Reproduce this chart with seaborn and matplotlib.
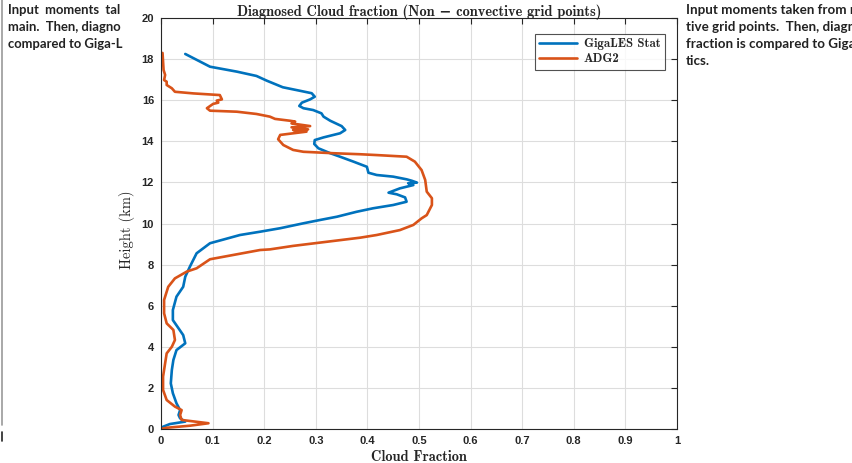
import pandas as pd
import matplotlib
matplotlib.use("Agg")
import matplotlib.pyplot as plt
from matplotlib.lines import Line2D
from matplotlib.patches import Rectangle
import seaborn as sns

# Profiles (cloud fraction, height in km)
giga_cf = [0.047, 0.095, 0.147, 0.185, 0.205, 0.236, 0.269, 0.292, 0.298, 0.289,
           0.273, 0.268, 0.276, 0.295, 0.311, 0.315, 0.328, 0.350, 0.357, 0.347,
           0.315, 0.298, 0.297, 0.305, 0.328, 0.347, 0.373, 0.399, 0.402, 0.418,
           0.450, 0.476, 0.486, 0.496, 0.479, 0.489, 0.463, 0.441, 0.457, 0.473,
           0.476, 0.450, 0.411, 0.379, 0.341, 0.308, 0.276, 0.231, 0.192, 0.153,
           0.095, 0.069, 0.056, 0.047, 0.043, 0.030, 0.023, 0.023, 0.034, 0.043,
           0.047, 0.030, 0.024, 0.021, 0.019, 0.023, 0.030, 0.037, 0.034, 0.037,
           0.047, 0.017, 0.004, 0.002]
giga_z = [18.25, 17.63, 17.39, 17.18, 16.95, 16.63, 16.46, 16.34, 16.17, 16.04,
          15.88, 15.72, 15.61, 15.52, 15.36, 15.20, 15.00, 14.74, 14.55, 14.39,
          14.19, 14.06, 13.87, 13.66, 13.42, 13.25, 13.01, 12.76, 12.47, 12.36,
          12.28, 12.15, 12.08, 11.99, 11.96, 11.87, 11.71, 11.50, 11.42, 11.27,
          11.06, 10.90, 10.74, 10.57, 10.33, 10.17, 10.01, 9.77, 9.60, 9.44,
          9.04, 8.55, 7.90, 7.41, 6.92, 6.44, 5.79, 5.30, 4.90, 4.57,
          4.17, 3.84, 3.36, 2.87, 2.22, 1.74, 1.25, 0.92, 0.68, 0.52,
          0.36, 0.24, 0.11, 0.05]

adg2_cf = [0.003, 0.005, 0.008, 0.006, 0.011, 0.011, 0.021, 0.027, 0.063, 0.114,
           0.118, 0.108, 0.111, 0.101, 0.089, 0.095, 0.147, 0.185, 0.211, 0.221,
           0.250, 0.260, 0.253, 0.289, 0.253, 0.285, 0.256, 0.282, 0.231, 0.227,
           0.237, 0.256, 0.276, 0.334, 0.386, 0.418, 0.476, 0.492, 0.505, 0.512,
           0.515, 0.525, 0.525, 0.515, 0.505, 0.489, 0.463, 0.418, 0.386, 0.321,
           0.256, 0.211, 0.192, 0.095, 0.069, 0.050, 0.027, 0.014, 0.006, 0.006,
           0.011, 0.024, 0.027, 0.021, 0.011, 0.008, 0.004, 0.004, 0.011, 0.027,
           0.040, 0.037, 0.040, 0.092, 0.056, 0.011, 0.000]
adg2_z = [18.30, 17.47, 17.23, 16.98, 16.90, 16.74, 16.58, 16.41, 16.33, 16.25,
          16.04, 15.98, 15.88, 15.82, 15.61, 15.49, 15.44, 15.33, 15.20, 15.09,
          15.00, 14.96, 14.87, 14.74, 14.68, 14.58, 14.55, 14.47, 14.31, 14.10,
          13.82, 13.58, 13.49, 13.42, 13.37, 13.33, 13.25, 13.01, 12.60, 12.12,
          11.55, 11.23, 10.90, 10.41, 10.25, 9.93, 9.68, 9.44, 9.31, 9.11,
          8.91, 8.74, 8.71, 8.26, 7.82, 7.66, 7.33, 6.92, 6.28, 5.63,
          5.14, 4.82, 4.33, 4.00, 3.68, 3.20, 2.55, 1.90, 1.41, 1.09,
          0.92, 0.68, 0.44, 0.28, 0.16, 0.06, 0.00]

series_names = ["GigaLES Stat", "ADG2"]
series_colors = ["#0072BD", "#D95319"]
x_ticks = [0, 0.1, 0.2, 0.3, 0.4, 0.5, 0.6, 0.7, 0.8, 0.9, 1]
x_tick_labels = ["0", "0.1", "0.2", "0.3", "0.4", "0.5", "0.6", "0.7", "0.8", "0.9", "1"]
y_ticks = [0, 2, 4, 6, 8, 10, 12, 14, 16, 18, 20]

left_text = ["Input  moments  tal", "main.  Then, diagno", "compared to Giga-L"]
right_text = ["Input moments taken from n", "tive grid points.  Then, diagn",
              "fraction is compared to Giga", "tics."]

profiles = {
    series_names[0]: pd.DataFrame({"cf": giga_cf, "z": giga_z}),
    series_names[1]: pd.DataFrame({"cf": adg2_cf, "z": adg2_z}),
}

sns.set_style("white")
serif_b = ["cmb10", "DejaVu Serif"]
serif_r = ["cmr10", "DejaVu Serif"]
sans = ["Liberation Sans", "DejaVu Sans"]

fig = plt.figure(figsize=(8.53, 4.63), dpi=100)

# surrounding document text, partly covered by the figure
for k, line in enumerate(left_text):
    fig.text(8 / 853, 1 - (10 + 17 * k) / 463, line, fontsize=9.4, fontweight="bold",
             family="Lato", color="#222222", va="center", ha="left", zorder=-3)
for k, line in enumerate(right_text):
    fig.text(686 / 853, 1 - (10 + 17 * k) / 463, line, fontsize=9.6, fontweight="bold",
             family="Lato", color="#222222", va="center", ha="left", zorder=-3)
fig.add_artist(Rectangle((126 / 853, 0), (684 - 126) / 853, 1, transform=fig.transFigure,
                         facecolor="white", edgecolor="none", zorder=-2))
fig.add_artist(Line2D([2 / 853, 2 / 853], [1 - 425 / 463, 1], transform=fig.transFigure,
                      color="#999999", lw=1.2, zorder=-2))
fig.add_artist(Line2D([2 / 853, 2 / 853], [1 - 441 / 463, 1 - 432 / 463], transform=fig.transFigure,
                      color="#222222", lw=1.2, zorder=-2))

ax = fig.add_axes([161 / 853, 34 / 463, 516 / 853, 411 / 463])

for name, col in zip(series_names, series_colors):
    sub = profiles[name]
    sns.lineplot(data=sub, x="cf", y="z", sort=False, estimator=None,
                 color=col, linewidth=1.9, ax=ax, label=name)

ax.set_xlim(0, 1)
ax.set_ylim(0, 20)
ax.set_xticks(x_ticks)
ax.set_xticklabels(x_tick_labels)
ax.set_yticks(y_ticks)
ax.grid(True, color="#dddddd", linewidth=0.8)
ax.tick_params(direction="in", length=4, width=0.8, top=True, right=True,
               labelsize=8, pad=5, colors="#262626")
for lab in ax.get_xticklabels() + ax.get_yticklabels():
    lab.set_fontweight("bold")
    lab.set_family(sans)
for sp in ax.spines.values():
    sp.set_color("#262626")
    sp.set_linewidth(0.8)

ax.set_title("Diagnosed Cloud fraction (Non \u2212 convective grid points)", family=serif_b,
             fontsize=10.4, fontweight="bold", pad=1.5)
ax.set_xlabel("Cloud Fraction", family=serif_b, fontsize=10.4, fontweight="bold", labelpad=3)
ax.set_ylabel("Height (km)", family=serif_r, fontsize=10.5)
ax.yaxis.set_label_coords(-0.050, (429 - 230) / 411)

leg = ax.legend(loc="upper right", bbox_to_anchor=(1 - 12 / 516, 1 - 16 / 411), borderaxespad=0,
                frameon=True, fancybox=False, edgecolor="#262626", handlelength=3.0,
                borderpad=0.35, labelspacing=0.2, handletextpad=0.5,
                prop={"family": serif_b, "weight": "bold", "size": 9.2})
leg.get_frame().set_linewidth(0.8)

fig.savefig("out.png", dpi=100)
